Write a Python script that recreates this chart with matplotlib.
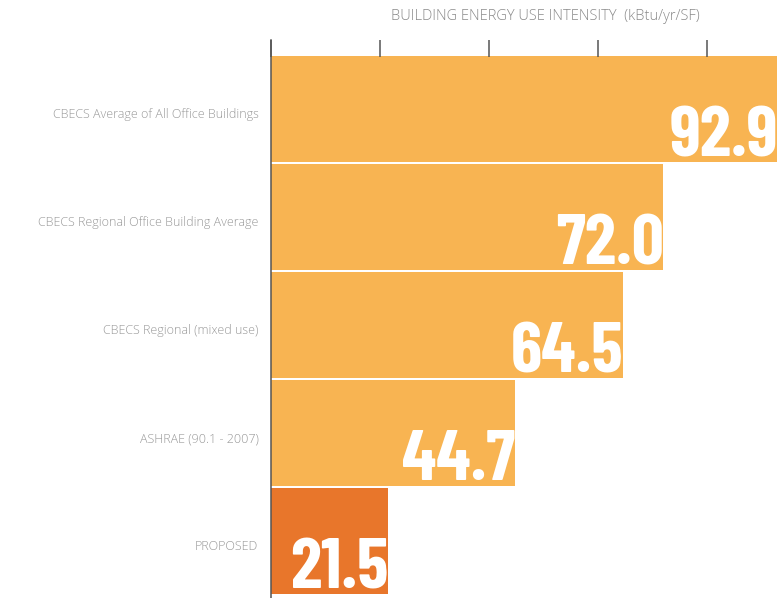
import numpy as np
import matplotlib.pyplot as plt

categories = ['CBECS Average of All Office Buildings',
              'CBECS Regional Office Building Average',
              'CBECS Regional (mixed use)',
              'ASHRAE (90.1 - 2007)',
              'PROPOSED']
values = [92.9, 72.0, 64.5, 44.7, 21.5]
value_labels = ['92.9', '72.0', '64.5', '44.7', '21.5']
ticks = [0, 20, 40, 60, 80]

light = '#F8B452'
dark = '#E8762B'
colors = [light, light, light, light, dark]

thin = ['Open Sans', 'DejaVu Sans']
bold_narrow = ['Barlow Condensed', 'Oswald', 'DejaVu Sans']

fig = plt.figure(figsize=(7.79, 5.98), dpi=100)
ax = fig.add_axes([271/779, 0.0, 1 - 271/779, 1 - 40/598])

y = np.arange(len(values))
ax.barh(y, values, height=0.985, color=colors, edgecolor='none', zorder=1)

ax.set_xlim(0, 93.2)
ax.set_ylim(4.53, -0.64)

for yi, v, lab in zip(y, values, value_labels):
    ax.text(v + 0.1, yi + 0.44, lab, ha='right', va='baseline', color='white',
            fontsize=51, fontweight='bold', family=bold_narrow, zorder=3)

# labels sit a touch below the bar centre in the original
ax.set_yticks(y + 0.04)
ax.set_yticklabels(categories, family=thin, fontsize=9, fontweight='light',
                   color='#999999')
ax.tick_params(axis='y', length=0, pad=9)

ax.xaxis.tick_top()
ax.set_xticks(ticks)
ax.set_xticklabels([])
ax.tick_params(axis='x', direction='in', length=12, width=1.1, color='#555555')

for s in ['top', 'right', 'bottom']:
    ax.spines[s].set_visible(False)
ax.spines['left'].set_color('#555555')
ax.spines['left'].set_linewidth(1.1)

fig.text(545/779, 1 - 17/598, 'BUILDING ENERGY USE INTENSITY  (kBtu/yr/SF)',
         ha='center', va='center', fontsize=10.5, fontweight='light',
         color='#8a8a8a', family=thin)

fig.savefig('out.png', dpi=100)
